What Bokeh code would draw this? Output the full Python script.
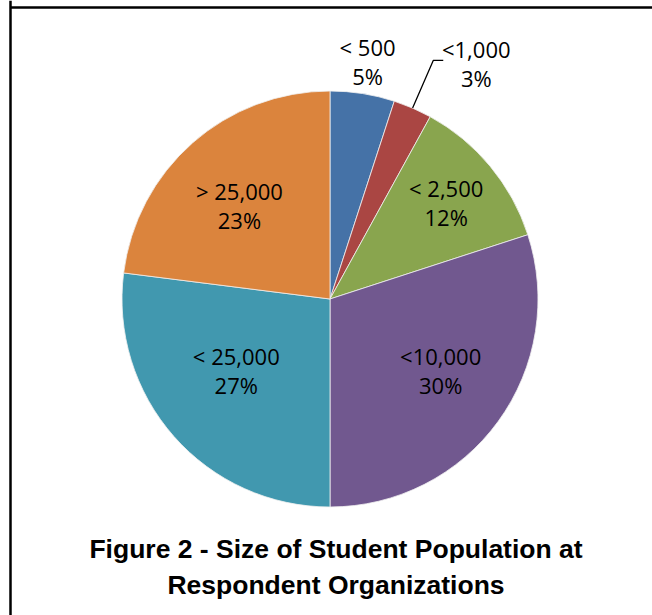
import math

from bokeh.core.properties import value
from bokeh.embed import file_html
from bokeh.models import ColumnDataSource, Range1d
from bokeh.plotting import figure
from bokeh.resources import INLINE

# Survey data: size of the student population
categories = ["< 500", "<1,000", "< 2,500", "<10,000", "< 25,000", "> 25,000"]
percents = [5, 3, 12, 30, 27, 23]
colors = ["#4572A7", "#AA4643", "#89A54E", "#71588F", "#4198AF", "#DB843D"]
title_lines = ["Figure 2 - Size of Student Population at", "Respondent Organizations"]

# Layout (page pixels, y measured from the top)
W, H = 652, 615
CX, CY_TOP, R = 329.5, 298.5, 208.0
CY = H - CY_TOP
# radial position of each label, as a fraction of the radius (None = leader line)
label_radius = [1.155, None, 0.725, 0.61, 0.575, 0.622]
# small per-label nudges in pixels (right, up)
label_nudge = [(0, 0), (-5, 0), (0, 0), (8, 3), (-4, 8), (-5, -4)]

total = float(sum(percents))
starts, ends, mids = [], [], []
acc = 0.0
for v in percents:
    a0 = acc / total * 2 * math.pi
    acc += v
    a1 = acc / total * 2 * math.pi
    # clockwise from 12 o'clock
    starts.append(math.pi / 2 - a0)
    ends.append(math.pi / 2 - a1)
    mids.append(math.pi / 2 - (a0 + a1) / 2)

src = ColumnDataSource(dict(cat=categories, pct=percents, color=colors,
                            start=starts, end=ends))

p = figure(width=W, height=H, output_backend="svg", toolbar_location=None,
           x_range=Range1d(0, W), y_range=Range1d(0, H), min_border=0)
p.axis.visible = False
p.grid.visible = False
p.outline_line_color = None
p.background_fill_color = "white"
p.border_fill_color = "white"

# frame lines on the left and top edges
p.segment(x0=[10, 10], y0=[0, H - 7], x1=[10, W], y1=[H, H - 7],
          line_color="black", line_width=2.5)

p.wedge(x=CX, y=CY, radius=R, start_angle="start", end_angle="end",
        direction="clock", fill_color="color", line_color="#F0F0F0",
        line_width=0.8, source=src)

lx, ly, cat_txt, pct_txt = [], [], [], []
lead_x, lead_y = None, None
for i, (cat, v) in enumerate(zip(categories, percents)):
    m = mids[i]
    f = label_radius[i]
    if f is None:
        # leader line from the slice edge out to the label
        sx, sy = CX + R * math.cos(m), CY + R * math.sin(m)
        ex, ey = CX + 1.25 * R * math.cos(m), CY + 1.25 * R * math.sin(m)
        hx = ex + 10
        lead_x, lead_y = [sx, ex, hx], [sy, ey, ey]
        x, y = hx + 38, ey - 3
    else:
        x, y = CX + f * R * math.cos(m), CY + f * R * math.sin(m)
    nx, ny = label_nudge[i]
    lx.append(x + nx)
    ly.append(y + ny)
    cat_txt.append(cat)
    pct_txt.append(f"{v}%")

if lead_x is not None:
    p.line(lead_x, lead_y, line_color="black", line_width=1.3)

lab = ColumnDataSource(dict(x=lx, y=ly, cat=cat_txt, pct=pct_txt))
common = dict(text_font=value("Open Sans"), text_font_size="22px",
              text_color="black", text_align="center", text_baseline="middle",
              source=lab)
p.text(x="x", y="y", text="cat", y_offset=-14.5, **common)
p.text(x="x", y="y", text="pct", y_offset=14.5, **common)

p.text(x=[335.5, 335.5], y=[H - 548, H - 584], text=title_lines,
       text_font=value("Liberation Sans"), text_font_style="bold",
       text_font_size="26.5px", text_color="black", text_align="center",
       text_baseline="middle")

open("out.html", "w").write(file_html(p, INLINE))
